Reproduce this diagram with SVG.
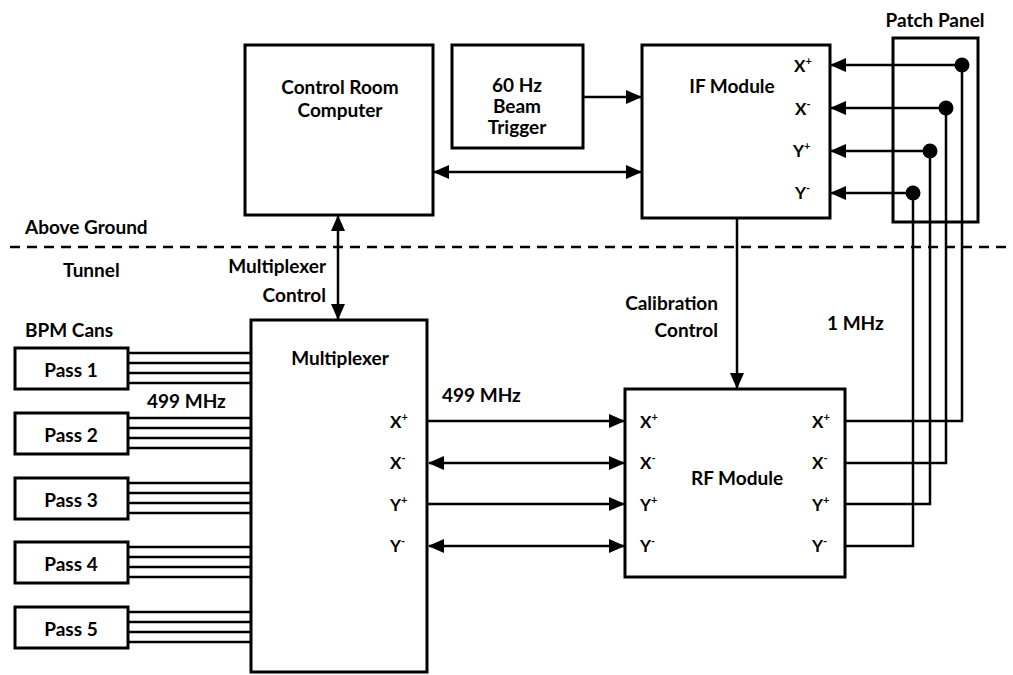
<svg xmlns="http://www.w3.org/2000/svg" width="1013" height="675" viewBox="0 0 1013 675">
<defs>
<marker id="ah" markerUnits="userSpaceOnUse" markerWidth="16" markerHeight="14" viewBox="0 0 16 14" refX="15" refY="7" orient="auto-start-reverse">
<path d="M0,0 L16,7 L0,14 z" fill="#000"/>
</marker>
<style>
.box{fill:#fff;stroke:#000;stroke-width:3}
.ln{fill:none;stroke:#000;stroke-width:2.5}
.t{font-family:Lato,"Liberation Sans",sans-serif;font-weight:bold;font-size:19px;fill:#000}
.m{text-anchor:middle}
.e{text-anchor:end}
.p{font-family:Lato,"Liberation Sans",sans-serif;font-weight:bold;font-size:17px;fill:#000}
.sup{font-size:11px}
</style>
</defs>
<rect width="1013" height="675" fill="#fff"/>

<line x1="10" y1="247" x2="1013" y2="247" stroke="#000" stroke-width="2.5" stroke-dasharray="10,7"/>
<text class="t" x="25" y="234">Above Ground</text>
<text class="t" x="63" y="277">Tunnel</text>
<text class="t" x="25" y="337">BPM Cans</text>

<g id="connectors">
<line class="ln" x1="583" y1="97" x2="641" y2="97" marker-end="url(#ah)"/>
<line class="ln" x1="434" y1="172" x2="641" y2="172" marker-start="url(#ah)" marker-end="url(#ah)"/>
<line class="ln" x1="338" y1="216" x2="338" y2="319" marker-start="url(#ah)" marker-end="url(#ah)"/>
<line class="ln" x1="737" y1="218" x2="737" y2="388" marker-end="url(#ah)"/>
<line class="ln" x1="962" y1="65" x2="831" y2="65" marker-end="url(#ah)"/>
<line class="ln" x1="946" y1="108" x2="831" y2="108" marker-end="url(#ah)"/>
<line class="ln" x1="930" y1="151" x2="831" y2="151" marker-end="url(#ah)"/>
<line class="ln" x1="913" y1="193" x2="831" y2="193" marker-end="url(#ah)"/>
<path class="ln" d="M962,65 V421 H845"/>
<path class="ln" d="M946,108 V463 H845"/>
<path class="ln" d="M930,151 V504 H845"/>
<path class="ln" d="M913,193 V546 H845"/>
<line class="ln" x1="428" y1="421" x2="624" y2="421" marker-end="url(#ah)"/>
<line class="ln" x1="429" y1="463" x2="624" y2="463" marker-start="url(#ah)" marker-end="url(#ah)"/>
<line class="ln" x1="428" y1="504" x2="624" y2="504" marker-end="url(#ah)"/>
<line class="ln" x1="429" y1="546" x2="624" y2="546" marker-start="url(#ah)" marker-end="url(#ah)"/>
<g class="ln">
<path d="M128,353 H251 M128,363 H251 M128,373 H251 M128,383 H251"/>
<path d="M128,418 H251 M128,428 H251 M128,438 H251 M128,448 H251"/>
<path d="M128,483 H251 M128,493 H251 M128,503 H251 M128,513 H251"/>
<path d="M128,547 H251 M128,557 H251 M128,567 H251 M128,577 H251"/>
<path d="M128,612 H251 M128,622 H251 M128,632 H251 M128,642 H251"/>
</g>
</g>

<g id="control-room">
<rect class="box" x="245" y="45" width="188" height="170"/>
<text class="t m" x="340" y="94">Control Room</text>
<text class="t m" x="340" y="117">Computer</text>
</g>

<g id="beam-trigger">
<rect class="box" x="452" y="45" width="131" height="103"/>
<text class="t m" x="517" y="92">60 Hz</text>
<text class="t m" x="517" y="113">Beam</text>
<text class="t m" x="517" y="134">Trigger</text>
</g>

<g id="if-module">
<rect class="box" x="642" y="45" width="188" height="173"/>
<text class="t m" x="732" y="93">IF Module</text>
<text class="p" x="794" y="72">X<tspan class="sup" dy="-7">+</tspan></text>
<text class="p" x="795" y="115">X<tspan class="sup" dy="-7">-</tspan></text>
<text class="p" x="793" y="157">Y<tspan class="sup" dy="-7">+</tspan></text>
<text class="p" x="795" y="199">Y<tspan class="sup" dy="-7">-</tspan></text>
</g>

<g id="patch-panel">
<rect x="893" y="38" width="85" height="184" fill="none" stroke="#000" stroke-width="3"/>
<text class="t m" x="935" y="27">Patch Panel</text>
<circle cx="962" cy="65" r="7.5"/>
<circle cx="946" cy="108" r="7.5"/>
<circle cx="930" cy="151" r="7.5"/>
<circle cx="913" cy="193" r="7.5"/>
</g>

<g id="multiplexer">
<rect class="box" x="251" y="320" width="176" height="352"/>
<text class="t m" x="340" y="365">Multiplexer</text>
<text class="p" x="390" y="428">X<tspan class="sup" dy="-7">+</tspan></text>
<text class="p" x="390" y="469">X<tspan class="sup" dy="-7">-</tspan></text>
<text class="p" x="390" y="511">Y<tspan class="sup" dy="-7">+</tspan></text>
<text class="p" x="390" y="552">Y<tspan class="sup" dy="-7">-</tspan></text>
</g>

<g id="rf-module">
<rect class="box" x="625" y="389" width="220" height="188"/>
<text class="t m" x="737" y="485">RF Module</text>
<text class="p" x="640" y="428">X<tspan class="sup" dy="-7">+</tspan></text>
<text class="p" x="640" y="469">X<tspan class="sup" dy="-7">-</tspan></text>
<text class="p" x="640" y="511">Y<tspan class="sup" dy="-7">+</tspan></text>
<text class="p" x="640" y="552">Y<tspan class="sup" dy="-7">-</tspan></text>
<text class="p" x="812" y="428">X<tspan class="sup" dy="-7">+</tspan></text>
<text class="p" x="812" y="469">X<tspan class="sup" dy="-7">-</tspan></text>
<text class="p" x="812" y="511">Y<tspan class="sup" dy="-7">+</tspan></text>
<text class="p" x="812" y="552">Y<tspan class="sup" dy="-7">-</tspan></text>
</g>

<g id="pass-1"><rect class="box" x="15" y="348" width="113" height="41"/><text class="t m" x="71" y="377">Pass 1</text></g>
<g id="pass-2"><rect class="box" x="15" y="413" width="113" height="41"/><text class="t m" x="71" y="442">Pass 2</text></g>
<g id="pass-3"><rect class="box" x="15" y="478" width="113" height="41"/><text class="t m" x="71" y="507">Pass 3</text></g>
<g id="pass-4"><rect class="box" x="15" y="542" width="113" height="41"/><text class="t m" x="71" y="571">Pass 4</text></g>
<g id="pass-5"><rect class="box" x="15" y="607" width="113" height="41"/><text class="t m" x="71" y="636">Pass 5</text></g>

<g id="labels">
<text class="t e" x="326" y="273">Multiplexer</text>
<text class="t e" x="326" y="302">Control</text>
<text class="t e" x="718" y="310">Calibration</text>
<text class="t e" x="718" y="337">Control</text>
<text class="t" x="827" y="330">1 MHz</text>
<text class="t" x="147" y="408">499 MHz</text>
<text class="t" x="442" y="402">499 MHz</text>
</g>
</svg>
